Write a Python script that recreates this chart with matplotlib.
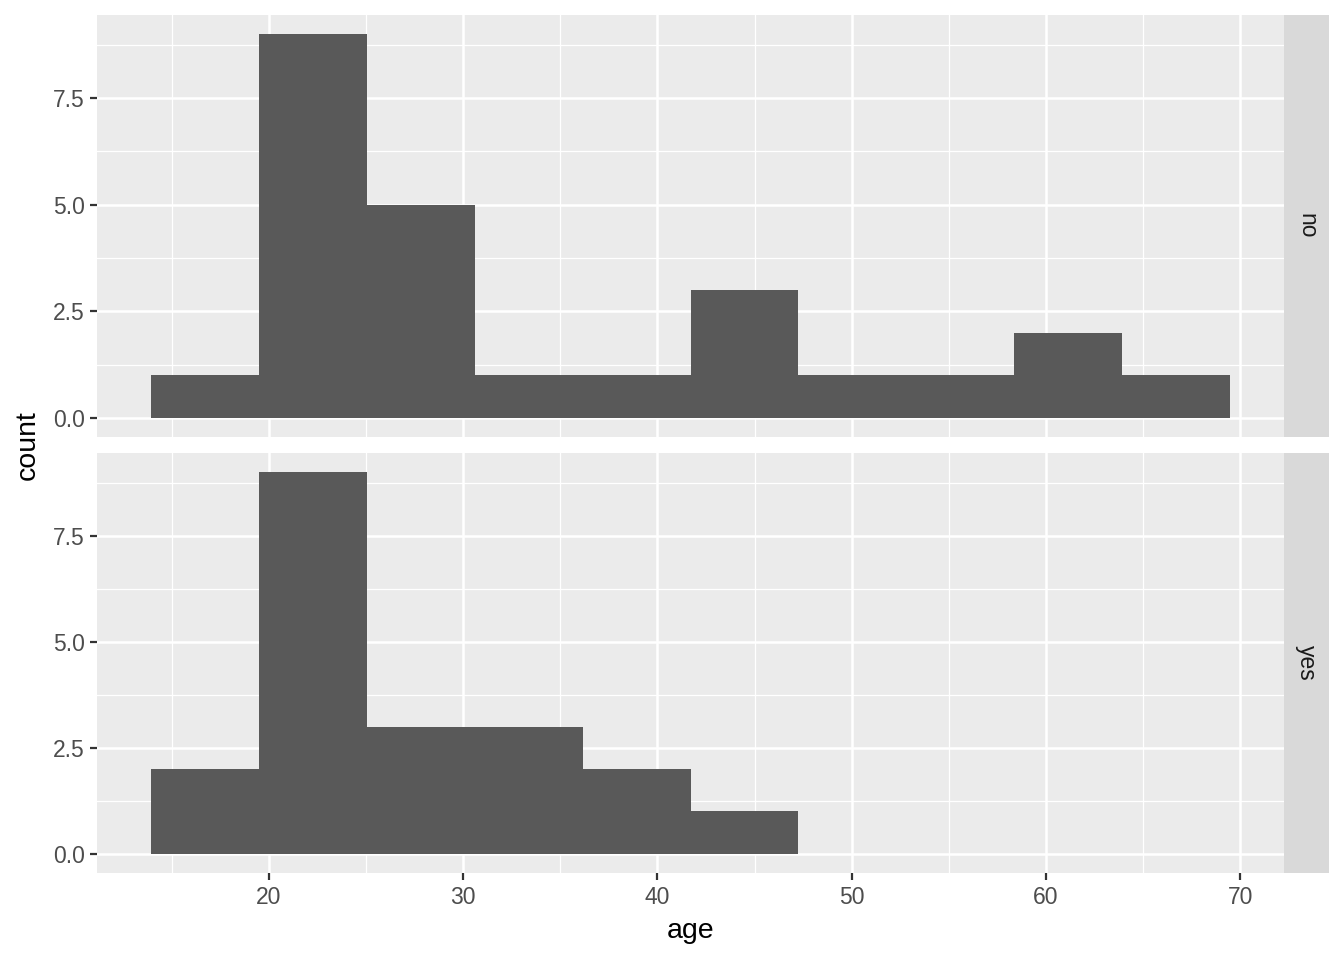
import numpy as np
import matplotlib
matplotlib.use("Agg")
import matplotlib.pyplot as plt

# Data
bin_edges = [13.93, 19.49, 25.04, 30.60, 36.15, 41.70, 47.25, 52.81, 58.36, 63.91, 69.47]
panels = ["no", "yes"]
counts_no = [1, 9, 5, 1, 1, 3, 1, 1, 2, 1]
counts_yes = [2, 9, 3, 3, 2, 1, 0, 0, 0, 0]
x_ticks = [20, 30, 40, 50, 60, 70]
y_ticks = [0.0, 2.5, 5.0, 7.5]
y_tick_labels = ["0.0", "2.5", "5.0", "7.5"]

plt.rcParams['font.family'] = ['Liberation Sans', 'DejaVu Sans']

fig = plt.figure(figsize=(13.44, 9.6), dpi=100)
fig.patch.set_facecolor("white")

W, H = 1344, 960
left, right = 97 / W, 1284 / W
panel_boxes = [(15, 437), (453, 873)]
strip_w = 45 / W

edges = np.array(bin_edges)
xr = edges[-1] - edges[0]
xlim = (edges[0] - 0.05 * xr, edges[-1] + 0.05 * xr)
ymax = max(max(counts_no), max(counts_yes))
ylim = (-0.05 * ymax, ymax * 1.05)

tick_fs = 16.5
title_fs = 20.5

for i, (name, counts) in enumerate(zip(panels, [counts_no, counts_yes])):
    top, bot = panel_boxes[i]
    ax = fig.add_axes([left, 1 - bot / H, right - left, (bot - top) / H])
    ax.set_facecolor("#EBEBEB")
    ax.bar(edges[:-1], counts, width=np.diff(edges), align="edge",
           color="#595959", edgecolor="none", zorder=3)
    ax.set_xlim(*xlim)
    ax.set_ylim(*ylim)
    ax.set_xticks(x_ticks)
    ax.set_xticks([15, 25, 35, 45, 55, 65], minor=True)
    ax.set_yticks(y_ticks)
    ax.set_yticklabels(y_tick_labels)
    ax.set_yticks([1.25, 3.75, 6.25, 8.75], minor=True)
    ax.grid(which="major", color="white", linewidth=1.8, zorder=1)
    ax.grid(which="minor", color="white", linewidth=0.9, zorder=1)
    ax.set_axisbelow(True)
    for s in ax.spines.values():
        s.set_visible(False)
    ax.tick_params(which="major", length=5.2, width=1.6, color="#333333",
                   labelcolor="#4D4D4D", labelsize=tick_fs, pad=3.5)
    ax.tick_params(axis="x", which="major", pad=4.5)
    ax.tick_params(which="minor", length=0)
    if i == 0:
        ax.tick_params(axis="x", which="both", length=0, labelbottom=False)
    else:
        ax.set_xlabel("age", fontsize=title_fs, color="black", labelpad=6)
    # strip
    sax = fig.add_axes([right, 1 - bot / H, strip_w, (bot - top) / H])
    sax.set_facecolor("#D9D9D9")
    sax.set_xticks([]); sax.set_yticks([])
    for s in sax.spines.values():
        s.set_visible(False)
    sax.text(0.5, 0.5, name, rotation=-90, ha="center", va="center",
             fontsize=tick_fs, color="#1A1A1A", transform=sax.transAxes)

fig.text(28 / W, 1 - 445 / H, "count", rotation=90, ha="center", va="center",
         fontsize=title_fs, color="black")

fig.savefig("out.png", dpi=100)
